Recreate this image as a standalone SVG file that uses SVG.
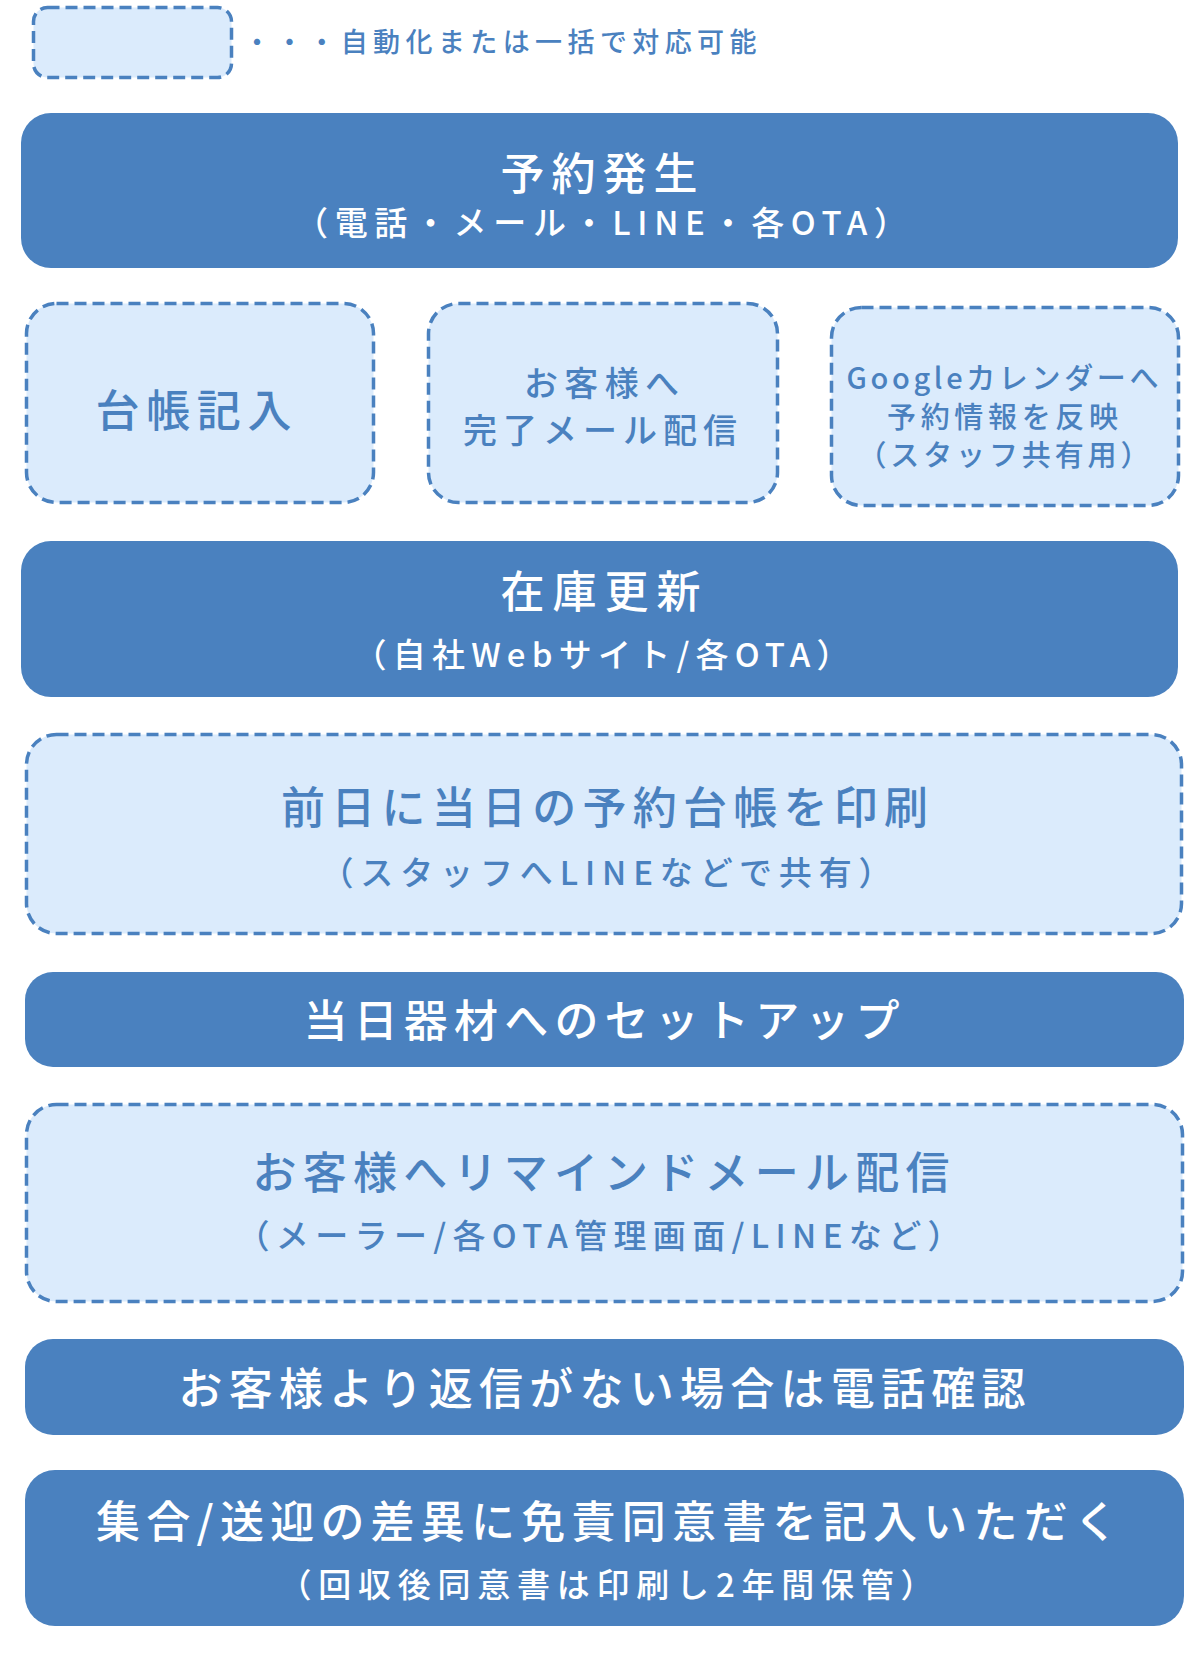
<svg xmlns="http://www.w3.org/2000/svg" width="1200" height="1660" viewBox="0 0 1200 1660">
<style>
text{font-family:"Noto Sans CJK JP","Noto Sans",sans-serif;font-weight:500;text-anchor:middle}
.solid{fill:#4A81BF}
.dash{fill:#DBEBFC;stroke:#4A81BF;stroke-width:3.5;stroke-dasharray:12 6}
.w{fill:#FFFFFF}
.b{fill:#4A81BF}
.t{font-size:44px}
.s{font-size:33px}
</style>
<rect width="1200" height="1660" fill="#FFFFFF"/>
<g id="legend">
<rect class="dash" x="33.5" y="7.5" width="198" height="70" rx="14"/>
<text class="b" x="500" y="52" font-size="27" textLength="513" lengthAdjust="spacing">・・・自動化または一括で対応可能</text>
</g>
<g id="connectors"/>
<g id="n1">
<rect class="solid" x="21" y="113" width="1157" height="155" rx="30"/>
<text class="w t" x="599" y="190" textLength="197" lengthAdjust="spacing">予約発生</text>
<text class="w s" x="601" y="235" textLength="612" lengthAdjust="spacing">（電話・メール・LINE・各OTA）</text>
</g>
<g id="n2">
<rect class="dash" x="26.5" y="303.5" width="347" height="199" rx="30"/>
<text class="b t" x="193.5" y="427" textLength="196" lengthAdjust="spacing">台帳記入</text>
</g>
<g id="n3">
<rect class="dash" x="428.5" y="303.5" width="349" height="199" rx="30"/>
<text class="b" x="601.5" y="395.5" font-size="34" textLength="155" lengthAdjust="spacing">お客様へ</text>
<text class="b" x="600" y="443" font-size="34" textLength="274" lengthAdjust="spacing">完了メール配信</text>
</g>
<g id="n4">
<rect class="dash" x="831.5" y="307.5" width="347" height="198" rx="30"/>
<text class="b" x="1002.5" y="389" font-size="29" textLength="312" lengthAdjust="spacing">Googleカレンダーへ</text>
<text class="b" x="1002.5" y="427.5" font-size="29" textLength="231" lengthAdjust="spacing">予約情報を反映</text>
<text class="b" x="1003.5" y="466" font-size="29" textLength="292" lengthAdjust="spacing">（スタッフ共有用）</text>
</g>
<g id="n5">
<rect class="solid" x="21" y="541" width="1157" height="156" rx="30"/>
<text class="w t" x="600.5" y="608" textLength="200" lengthAdjust="spacing">在庫更新</text>
<text class="w s" x="601.5" y="666.5" textLength="496" lengthAdjust="spacing">（自社Webサイト/各OTA）</text>
</g>
<g id="n6">
<rect class="dash" x="26.5" y="734.5" width="1155" height="199" rx="30"/>
<text class="b t" x="604.5" y="824" textLength="647" lengthAdjust="spacing">前日に当日の予約台帳を印刷</text>
<text class="b s" x="606" y="884.5" textLength="571" lengthAdjust="spacing">（スタッフへLINEなどで共有）</text>
</g>
<g id="n7">
<rect class="solid" x="25" y="972" width="1159" height="95" rx="28"/>
<text class="w t" x="601.5" y="1037" textLength="596" lengthAdjust="spacing">当日器材へのセットアップ</text>
</g>
<g id="n8">
<rect class="dash" x="26.5" y="1104.5" width="1156" height="197" rx="30"/>
<text class="b t" x="601" y="1189" textLength="697" lengthAdjust="spacing">お客様へリマインドメール配信</text>
<text class="b s" x="598.5" y="1247.5" textLength="724" lengthAdjust="spacing">（メーラー/各OTA管理画面/LINEなど）</text>
</g>
<g id="n9">
<rect class="solid" x="25" y="1339" width="1159" height="96" rx="28"/>
<text class="w t" x="602" y="1405" textLength="847" lengthAdjust="spacing">お客様より返信がない場合は電話確認</text>
</g>
<g id="n10">
<rect class="solid" x="25" y="1470" width="1159" height="156" rx="30"/>
<text class="w t" x="607" y="1538" textLength="1022" lengthAdjust="spacing">集合/送迎の差異に免責同意書を記入いただく</text>
<text class="w s" x="606" y="1596.5" textLength="655" lengthAdjust="spacing">（回収後同意書は印刷し2年間保管）</text>
</g>
</svg>
